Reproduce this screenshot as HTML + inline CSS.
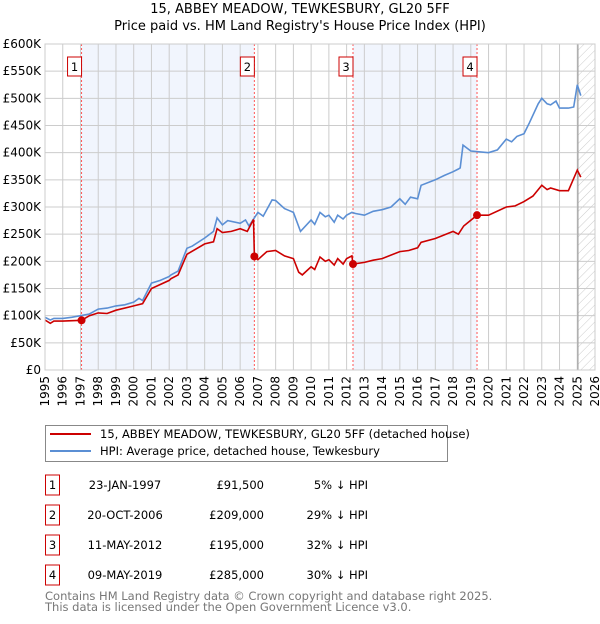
<!DOCTYPE html>
<html><head><meta charset="utf-8"><style>
body{margin:0;background:#fff;font-family:"DejaVu Sans","Liberation Sans",sans-serif;}
svg text{font-family:"DejaVu Sans","Liberation Sans",sans-serif;}
</style></head><body>
<svg id="c" width="600" height="620" viewBox="0 0 600 620">
<defs><pattern id="hatch" width="6" height="6" patternUnits="userSpaceOnUse" patternTransform="rotate(45)"><line x1="0" y1="0" x2="0" y2="6" stroke="#ccc" stroke-width="1"/></pattern></defs>
<text x="300" y="13" text-anchor="middle" font-size="13">15, ABBEY MEADOW, TEWKESBURY, GL20 5FF</text>
<text x="300" y="30" text-anchor="middle" font-size="13">Price paid vs. HM Land Registry's House Price Index (HPI)</text>
<g id="plot"></g>
<g>
<rect x="45.5" y="425.5" width="402" height="36" fill="#fff" stroke="#888"/>
<line x1="50" y1="434" x2="91" y2="434" stroke="#cc0000" stroke-width="2"/>
<text x="100" y="438" font-size="11.5">15, ABBEY MEADOW, TEWKESBURY, GL20 5FF (detached house)</text>
<line x1="50" y1="451" x2="91" y2="451" stroke="#5b8fd4" stroke-width="2"/>
<text x="100" y="455" font-size="11.5">HPI: Average price, detached house, Tewkesbury</text>
</g>
<g id="tbl" font-size="11.5"></g>
<text x="45" y="600" font-size="11.5" fill="#777">Contains HM Land Registry data © Crown copyright and database right 2025.</text>
<text x="45" y="611" font-size="11.5" fill="#777">This data is licensed under the Open Government Licence v3.0.</text>
</svg>
<script>
const yTicks=[0,50,100,150,200,250,300,350,400,450,500,550,600];
const yTickLabels=["£0","£50K","£100K","£150K","£200K","£250K","£300K","£350K","£400K","£450K","£500K","£550K","£600K"];
const xYears=[1995,1996,1997,1998,1999,2000,2001,2002,2003,2004,2005,2006,2007,2008,2009,2010,2011,2012,2013,2014,2015,2016,2017,2018,2019,2020,2021,2022,2023,2024,2025,2026];
const hpiT=[1995,1995.3,1995.5,1996,1996.5,1997,1997.5,1998,1998.5,1999,1999.5,2000,2000.3,2000.5,2001,2001.5,2002,2002.1,2002.5,2003,2003.3,2004,2004.5,2004.7,2005,2005.3,2006,2006.3,2006.5,2007,2007.3,2007.8,2008,2008.5,2008.8,2009,2009.4,2010,2010.2,2010.5,2010.8,2011,2011.3,2011.5,2011.8,2012,2012.3,2012.5,2013,2013.5,2014,2014.5,2015,2015.3,2015.6,2016,2016.2,2017,2017.5,2018,2018.3,2018.4,2018.56,2019,2020,2020.5,2021,2021.3,2021.6,2022,2022.3,2022.8,2023,2023.3,2023.5,2023.8,2024,2024.5,2024.8,2025,2025.2];
const hpiV=[97,92,95,95,97,100,103,112,114,118,120,125,132,128,160,165,172,175,182,224,228,243,255,280,267,275,270,276,265,290,283,313,312,297,293,290,255,276,268,290,282,285,272,285,278,285,290,288,285,292,295,300,315,305,318,315,340,350,358,365,370,372,414,403,400,405,425,420,430,435,455,490,500,490,488,495,482,482,484,525,505];
const ppT=[1995,1995.3,1995.5,1996,1997.06,1997.5,1998,1998.5,1999,2000,2000.5,2001,2002,2002.1,2002.5,2003,2004,2004.5,2004.7,2005,2005.5,2006,2006.4,2006.75,2006.8,2007,2007.5,2008,2008.5,2009,2009.3,2009.5,2010,2010.2,2010.5,2010.8,2011,2011.3,2011.5,2011.8,2012,2012.3,2012.36,2013,2013.5,2014,2015,2015.5,2016,2016.2,2017,2018,2018.3,2018.6,2019.35,2020,2021,2021.5,2022,2022.5,2023,2023.3,2023.5,2024,2024.5,2025,2025.2];
const ppV=[92,86,90,90,91.5,100,105,104,110,118,122,150,165,168,175,213,232,236,260,253,255,260,255,277,209,203,218,220,210,205,180,175,190,185,208,200,203,193,205,195,205,210,195,198,202,205,218,220,225,235,242,255,250,265,285,285,300,302,310,320,340,332,335,330,330,368,355];
const saleT=[1997.06,2006.8,2012.36,2019.35];
const saleV=[91.5,209,195,285];
const saleLabels=["1","2","3","4"];
const saleDates=["23-JAN-1997","20-OCT-2006","11-MAY-2012","09-MAY-2019"];
const salePrices=["£91,500","£209,000","£195,000","£285,000"];
const salePct=["5% ↓ HPI","29% ↓ HPI","32% ↓ HPI","30% ↓ HPI"];
const X0=45,X1=595,Y0=370,Y1=44;
const sx=t=>X0+(t-1995)*(X1-X0)/31;
const sy=v=>Y0-v*(Y0-Y1)/600;
const NS="http://www.w3.org/2000/svg";
const plot=document.getElementById('plot');
function mk(tag,attrs,parent){const e=document.createElementNS(NS,tag);for(const k in attrs)e.setAttribute(k,attrs[k]);(parent||plot).appendChild(e);return e;}
for(let i=0;i<4;i+=2){const r=mk('rect',{x:sx(saleT[i]),y:Y1,width:sx(saleT[i+1])-sx(saleT[i]),height:Y0-Y1,fill:'#eef3fc',opacity:0.8});

}
const h=mk('rect',{x:sx(2025.04),y:Y1,width:X1-sx(2025.04),height:Y0-Y1,fill:'url(#hatch)'});


yTicks.forEach((v,i)=>{const l=mk('line',{x1:X0,x2:X1,y1:sy(v),y2:sy(v),stroke:'#ccc'});


const t=mk('text',{x:X0-4,y:sy(v)+4,'text-anchor':'end','font-size':12});t.textContent=yTickLabels[i];

});
xYears.forEach(y=>{const l=mk('line',{x1:sx(y),x2:sx(y),y1:Y1,y2:Y0,stroke:'#ccc'});


const t=mk('text',{x:0,y:0,'font-size':12,'text-anchor':'end',transform:`translate(${sx(y)+4},${Y0+6}) rotate(-90)`});t.textContent=y;

});
const vl=mk('line',{x1:sx(2025.04),x2:sx(2025.04),y1:Y1,y2:Y0,stroke:'#999','stroke-width':1});


saleT.forEach((t,i)=>{const l=mk('line',{x1:sx(t),x2:sx(t),y1:Y1,y2:Y0,stroke:'#f55','stroke-dasharray':'2,2'});


const r=mk('rect',{x:sx(t)-14,y:57,width:14,height:19,fill:'#fff',stroke:'#cc0000'});


const tx=mk('text',{x:sx(t)-7,y:71,'text-anchor':'middle','font-size':11.5});tx.textContent=saleLabels[i];

});
const path=(T,V)=>T.map((t,i)=>(i?'L':'M')+sx(t).toFixed(1)+','+sy(V[i]).toFixed(1)).join('');
const hp=mk('path',{d:path(hpiT,hpiV),fill:'none',stroke:'#5b8fd4','stroke-width':1.6});


const pp=mk('path',{d:path(ppT,ppV),fill:'none',stroke:'#cc0000','stroke-width':1.6});


saleT.forEach((t,i)=>{const c=mk('circle',{cx:sx(t),cy:sy(saleV[i]),r:4,fill:'#cc0000'});

});
const bd=mk('rect',{x:X0,y:Y1,width:X1-X0,height:Y0-Y1,fill:'none',stroke:'#ccc'});


const tbl=document.getElementById('tbl');
saleT.forEach((t,i)=>{const cy=485+i*30;
const r=mk('rect',{x:45.5,y:cy-10,width:14,height:20,fill:'#fff',stroke:'#cc0000'},tbl);


const a=mk('text',{x:52.5,y:cy+4,'text-anchor':'middle'},tbl);a.textContent=saleLabels[i];


const d=mk('text',{x:125,y:cy+4,'text-anchor':'middle'},tbl);d.textContent=saleDates[i];


const p=mk('text',{x:264,y:cy+4,'text-anchor':'end'},tbl);p.textContent=salePrices[i];


const q=mk('text',{x:368,y:cy+4,'text-anchor':'end'},tbl);q.textContent=salePct[i];

});
</script>
</body></html>
